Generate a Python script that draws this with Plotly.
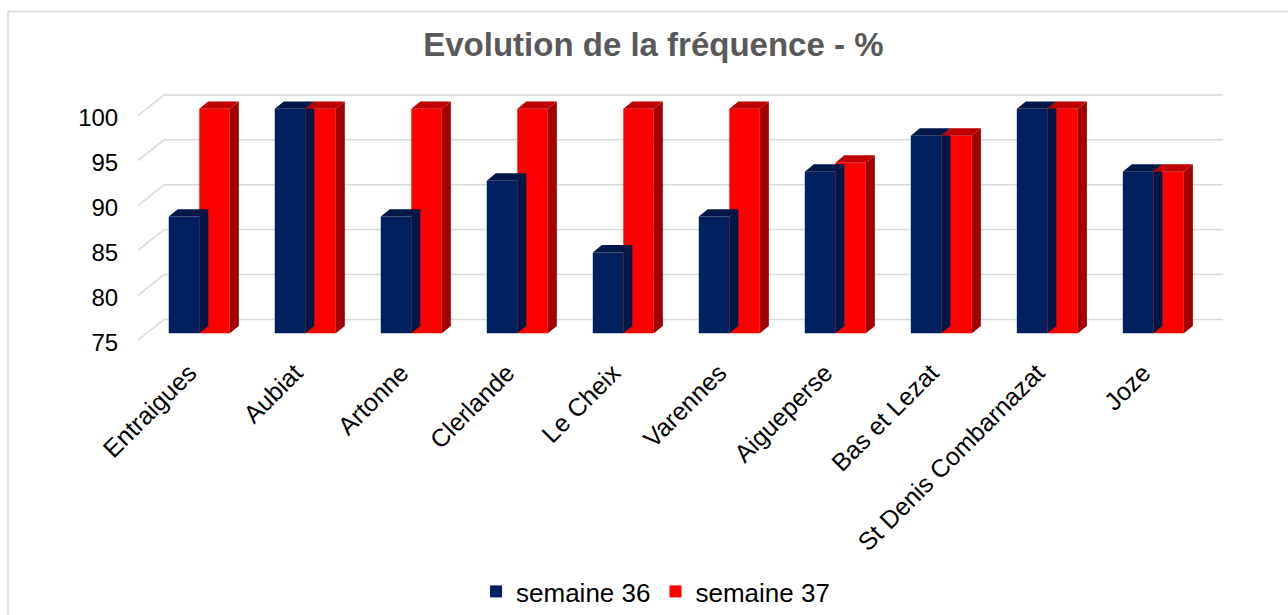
import plotly.graph_objects as go

categories = ["Entraigues", "Aubiat", "Artonne", "Clerlande", "Le Cheix", "Varennes",
              "Aigueperse", "Bas et Lezat", "St Denis Combarnazat", "Joze"]
semaine_36 = [88, 100, 88, 92, 84, 88, 93, 97, 100, 93]
semaine_37 = [100, 100, 100, 100, 100, 100, 94, 97, 100, 93]
y_ticks = [75, 80, 85, 90, 95, 100]

BASE = 75
BAR_W = 0.288      # width of each bar in category units
DX = 0.085         # 3D depth offset (x, category units)
DY = 0.83          # 3D depth offset (y, value units)
BACK_DY = 1.55     # back wall offset
FRONT_DY = -0.77   # front floor offset

NAVY = "#002060"
NAVY_TOP = "#001848"
RED = "#FF0000"
RED_TOP = "#C00000"
RED_SIDE = "#A00000"

FONT = "Liberation Sans, Arial, sans-serif"

idx = list(range(len(categories)))

fig = go.Figure()

# back-wall gridlines (behind everything)
X0_PAPER_FRONT = 0.0
X0_PAPER_BACK = 0.024
for t in y_ticks:
    fig.add_shape(type="line", xref="paper", yref="y", layer="below",
                  x0=X0_PAPER_BACK, x1=1.0, y0=t + BACK_DY, y1=t + BACK_DY,
                  line=dict(color="#D9D9D9", width=1.5))
    fig.add_shape(type="line", xref="paper", yref="y", layer="below",
                  x0=X0_PAPER_FRONT, x1=X0_PAPER_BACK, y0=t + FRONT_DY, y1=t + BACK_DY,
                  line=dict(color="#D9D9D9", width=1.5))

# chart border (left + top)
fig.add_shape(type="rect", xref="paper", yref="paper", layer="below",
              x0=-0.1198, x1=1.2, y0=-2.0, y1=1.268,
              line=dict(color="#D9D9D9", width=1.5), fillcolor="rgba(0,0,0,0)")


def top_faces(values, offset):
    xs, ys = [], []
    for i, v in zip(idx, values):
        xl = i + offset
        xr = xl + BAR_W
        xs += [xl, xr, xr + DX, xl + DX, xl, None]
        ys += [v, v, v + DY, v + DY, v, None]
    return xs, ys


def side_faces(values, offset):
    xs, ys = [], []
    for i, v in zip(idx, values):
        xr = i + offset + BAR_W
        xs += [xr, xr + DX, xr + DX, xr, xr, None]
        ys += [BASE, BASE + DY, v + DY, v, BASE, None]
    return xs, ys


# side faces of blue bars (mostly hidden by red bars)
sx, sy = side_faces(semaine_36, -BAR_W)
fig.add_trace(go.Scatter(x=sx, y=sy, mode="lines", fill="toself", fillcolor=NAVY_TOP,
                         line=dict(width=0, color=NAVY_TOP), showlegend=False, hoverinfo="skip"))

fig.add_trace(go.Bar(name="semaine 36", x=idx, y=[v - BASE for v in semaine_36], base=BASE,
                     marker=dict(color=NAVY, line=dict(width=0)), width=BAR_W, offset=-BAR_W))

tx, ty = top_faces(semaine_36, -BAR_W)
fig.add_trace(go.Scatter(x=tx, y=ty, mode="lines", fill="toself", fillcolor=NAVY_TOP,
                         line=dict(width=0, color=NAVY_TOP), showlegend=False, hoverinfo="skip"))

fig.add_trace(go.Bar(name="semaine 37", x=idx, y=[v - BASE for v in semaine_37], base=BASE,
                     marker=dict(color=RED, line=dict(width=0)), width=BAR_W, offset=0))

sx, sy = side_faces(semaine_37, 0)
fig.add_trace(go.Scatter(x=sx, y=sy, mode="lines", fill="toself", fillcolor=RED_SIDE,
                         line=dict(width=0, color=RED_SIDE), showlegend=False, hoverinfo="skip"))
tx, ty = top_faces(semaine_37, 0)
fig.add_trace(go.Scatter(x=tx, y=ty, mode="lines", fill="toself", fillcolor=RED_TOP,
                         line=dict(width=0, color=RED_TOP), showlegend=False, hoverinfo="skip"))

fig.update_layout(
    width=1288, height=615,
    margin=dict(l=138, r=65, t=82, b=268),
    paper_bgcolor="white", plot_bgcolor="white",
    font=dict(family=FONT, color="#000000", size=24),
    title=dict(text="<b>Evolution de la fréquence - %</b>", x=0.475, xref="paper",
               y=0.927, yref="container", yanchor="middle",
               font=dict(family=FONT, size=33, color="#595959")),
    barmode="overlay",
    showlegend=True,
    legend=dict(orientation="h", x=0.477, xref="paper", xanchor="center",
                y=-0.04, yref="container", yanchor="bottom",
                font=dict(family=FONT, size=26, color="#000000"),
                itemwidth=30, traceorder="normal"),
    xaxis=dict(range=[-0.578, 9.657], tickmode="array", tickvals=idx, ticktext=categories,
               tickangle=-45, showgrid=False, zeroline=False, showline=False,
               ticks="outside", ticklen=2, tickcolor="rgba(0,0,0,0)",
               ticklabelshift=-10,
               tickfont=dict(family=FONT, size=25, color="#000000")),
    yaxis=dict(range=[73.67, 102.99], tickmode="array", tickvals=y_ticks,
               showgrid=False, zeroline=False, showline=False,
               ticks="outside", ticklen=14, tickcolor="rgba(0,0,0,0)",
               ticklabelshift=9,
               tickfont=dict(family=FONT, size=24, color="#000000")),
)

fig.write_html("out.html", post_script="document.body.style.margin='0';",
               config={"displayModeBar": False})
